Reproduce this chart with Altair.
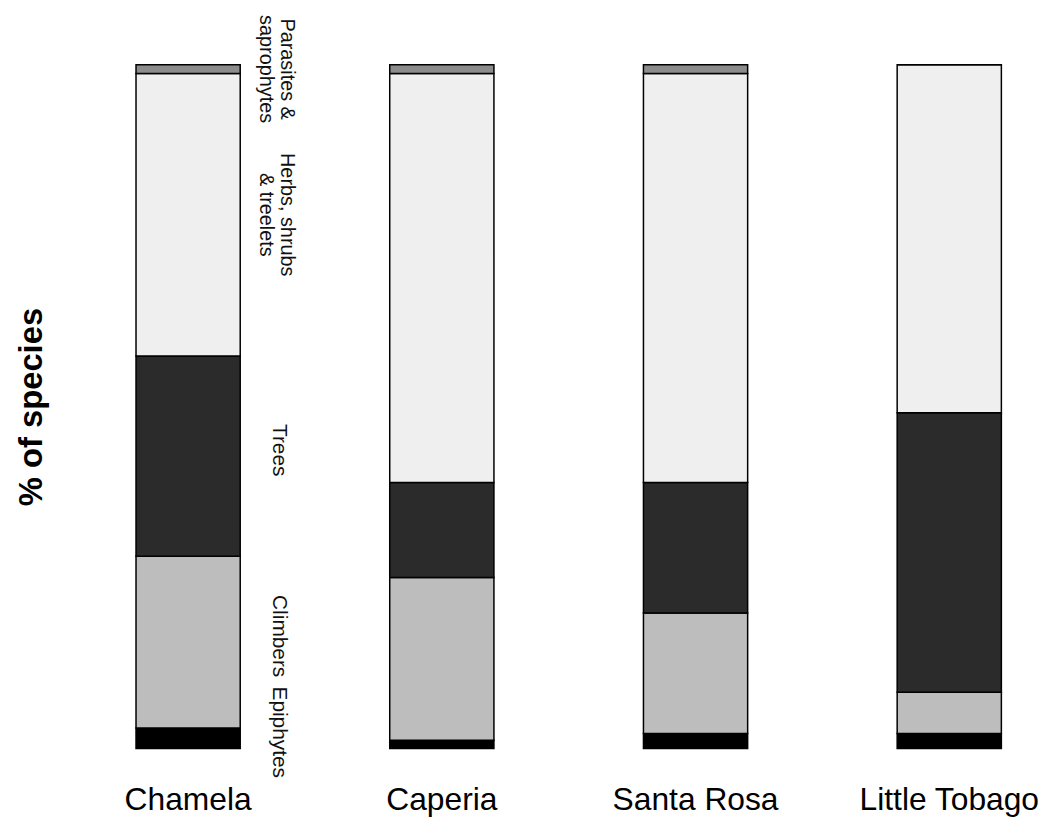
import altair as alt
import pandas as pd

sites = ["Chamela", "Caperia", "Santa Rosa", "Little Tobago"]
forms = ["Epiphytes", "Climbers", "Trees", "Herbs, shrubs & treelets", "Parasites & saprophytes"]
form_labels = ["Epiphytes", "Climbers", "Trees", "Herbs, shrubs\n& treelets", "Parasites &\nsaprophytes"]

epiphytes = [3.0, 1.2, 2.2, 2.2]
climbers = [25.1, 23.8, 17.6, 6.0]
trees = [29.3, 13.9, 19.1, 40.9]
herbs = [41.3, 59.8, 59.8, 50.9]
parasites = [1.3, 1.3, 1.3, 0.0]

series = [epiphytes, climbers, trees, herbs, parasites]
rows = []
for si, site in enumerate(sites):
    for fi, form in enumerate(forms):
        rows.append({"site": site, "form": form, "rank": fi,
                     "value": series[fi][si], "label": form_labels[fi],
                     "lines": form_labels[fi].count("\n") + 1})
df = pd.DataFrame(rows)

fills = ["#000000", "#bdbdbd", "#2b2b2b", "#efefef", "#8c8c8c"]
FONT = "Liberation Sans"

x_scale = alt.Scale(paddingInner=0.5893, paddingOuter=0.1447)

bars = alt.Chart(df).mark_bar(stroke="black", strokeWidth=1.5).encode(
    x=alt.X("site:N", sort=sites, scale=x_scale,
            axis=alt.Axis(title=None, labelAngle=0, ticks=False, domain=False,
                          labelFontSize=32, labelPadding=37, labelFont=FONT,
                          labelColor="black", labelLimit=0)),
    y=alt.Y("value:Q", stack="zero",
            scale=alt.Scale(domain=[0, 100], nice=False),
            axis=alt.Axis(title="% of species", labels=False, ticks=False,
                          domain=False, grid=False, titleFontSize=33,
                          titleFontWeight="bold", titleFont=FONT,
                          titleColor="black", titleX=-58, titleY=344.5,
                          titleBaseline="alphabetic")),
    color=alt.Color("form:N", scale=alt.Scale(domain=forms, range=fills), legend=None),
    order=alt.Order("rank:Q", sort="ascending"),
)


def label_layer(nlines, dx, dy, size):
    return alt.Chart(df).transform_filter(
        alt.datum.site == sites[0]
    ).transform_stack(
        stack="value", groupby=["site"],
        sort=[alt.SortField("rank", order="ascending")], as_=["y0", "y1"]
    ).transform_calculate(
        mid="(datum.y0 + datum.y1) / 2"
    ).transform_filter(
        alt.datum.lines == nlines
    ).mark_text(
        angle=90, align="center", baseline="middle", lineBreak="\n",
        fontSize=size, font=FONT, color="#111111", dx=dx, dy=dy, lineHeight=21
    ).encode(
        x=alt.X("site:N", sort=sites, scale=x_scale, bandPosition=1),
        y=alt.Y("mid:Q"),
        text="label:N",
    )


chart = alt.layer(
    bars, label_layer(1, -6, -39, 21), label_layer(2, 0, -47, 20)
).properties(
    width=946, height=689,
    padding={"left": 92, "top": 54, "right": 11, "bottom": 70},
    autosize=alt.AutoSizeParams(type="none"),
).configure_view(stroke=None)

chart.save("out.html", embed_options={"renderer": "svg", "actions": False})
